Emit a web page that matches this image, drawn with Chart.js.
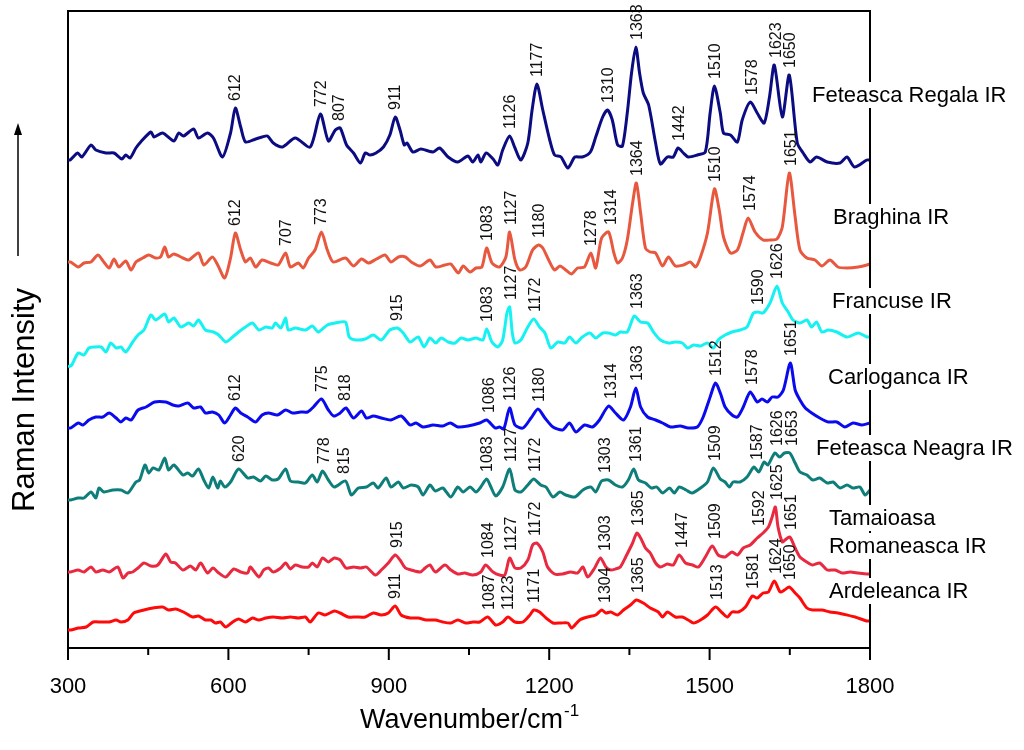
<!DOCTYPE html>
<html>
<head>
<meta charset="utf-8">
<title>Raman spectra</title>
<script src="https://cdn.jsdelivr.net/npm/chart.js@4.4.1/dist/chart.umd.min.js"></script>
<style>
  html, body { margin: 0; padding: 0; background: #fff; }
  canvas { display: block; }
</style>
</head>
<body>
<canvas id="ramanChart" width="1024" height="750"></canvas>
<script>
// wavenumber (cm-1) / intensity (arb. units, spectra already stacked)
const regalaX = [300,304,318,326,343,352,371,386,401,408,
  416,427,436,455,461,477,498,507,516,535,
  544,561,572,589,604,613,623,632,651,663,
  673,684,701,725,753,772,787,800,809,821,
  834,847,856,865,876,890,902,912,921,929,
  934,945,960,983,995,1011,1029,1048,1057,1067,
  1072,1082,1095,1104,1113,1126,1136,1147,1160,1168,
  1177,1188,1201,1210,1222,1235,1248,1262,1277,1287,
  1300,1309,1318,1328,1337,1346,1354,1362,1369,1376,
  1386,1399,1408,1421,1432,1441,1451,1460,1477,1492,
  1501,1509,1520,1526,1539,1552,1561,1576,1589,1602,
  1612,1621,1636,1649,1664,1675,1688,1700,1720,1744,
  1757,1771,1794,1800];
const regalaY = [488,488,495,491,503,498,495,495,489,493,
  490,500,506,516,511,515,507,515,512,519,
  510,515,510,491,515,540,521,506,509,511,
  512,505,501,510,501,534,507,518,520,503,
  495,485,495,493,495,501,513,531,518,503,
  505,496,499,496,500,491,486,492,486,493,
  486,495,489,483,498,512,500,488,505,538,
  564,538,508,493,491,480,491,491,496,511,
  531,538,528,503,502,535,575,601,575,555,
  543,505,484,491,491,500,495,491,493,496,
  535,562,535,515,513,506,528,546,535,525,
  551,583,531,573,505,495,486,491,486,485,
  491,481,488,488];

const braghinaX = [300,305,319,330,343,356,367,377,386,395,
  408,418,427,440,451,464,473,481,488,498,
  515,526,544,554,570,580,593,604,613,623,
  632,641,651,663,679,693,707,716,731,740,
  750,762,774,785,796,819,834,849,862,877,
  893,904,918,931,942,959,977,988,1005,1016,
  1030,1039,1052,1063,1074,1083,1093,1107,1119,1126,
  1136,1145,1156,1169,1180,1188,1199,1210,1220,1231,
  1242,1253,1266,1278,1287,1298,1311,1321,1328,1337,
  1346,1356,1363,1371,1380,1389,1399,1412,1423,1436,
  1451,1464,1474,1483,1496,1509,1518,1526,1539,1552,
  1563,1572,1585,1600,1613,1626,1636,1649,1660,1669,
  1682,1697,1710,1725,1740,1757,1778,1794,1800];
const braghinaY = [386,386,381,385,386,393,386,380,389,381,
  387,378,386,390,393,390,391,401,391,394,
  390,388,395,383,391,383,370,390,415,398,
  386,390,381,388,385,383,395,381,385,380,
  390,398,416,398,386,390,382,389,385,389,
  393,386,391,391,386,382,388,381,383,384,
  375,382,376,380,381,400,385,381,391,416,
  388,378,381,398,403,400,388,378,382,378,
  374,380,381,395,380,410,416,395,385,390,
  408,445,465,435,400,396,395,382,391,382,
  383,386,381,391,415,459,438,411,395,398,
  416,430,416,408,408,409,421,475,431,398,
  390,388,382,388,381,380,381,383,384];

const francuseX = [300,307,319,330,339,349,362,371,380,390,
  399,408,421,431,442,455,464,481,488,498,
  511,526,535,544,557,572,582,595,608,619,
  632,645,657,670,682,688,698,707,712,725,
  744,757,768,785,800,819,826,839,856,871,
  886,902,916,927,940,955,966,977,988,998,
  1011,1024,1035,1048,1063,1076,1083,1093,1104,1113,
  1121,1126,1131,1136,1147,1160,1171,1182,1192,1203,
  1216,1229,1238,1250,1262,1276,1287,1300,1311,1324,
  1333,1346,1359,1371,1384,1395,1408,1423,1436,1449,
  1459,1470,1483,1496,1507,1516,1529,1542,1557,1570,
  1582,1591,1600,1613,1626,1636,1647,1656,1669,1682,
  1691,1700,1710,1722,1738,1757,1778,1794,1800];
const francuseY = [281,283,295,293,300,301,301,296,305,300,
  301,296,306,313,318,333,328,334,326,330,
  321,325,322,328,318,316,313,306,311,316,
  321,325,318,321,320,325,320,330,318,320,
  318,322,316,323,325,326,311,308,309,313,
  308,318,320,315,306,311,301,310,305,310,
  306,305,310,308,310,308,319,306,301,308,
  335,341,315,305,308,321,329,321,315,300,
  306,305,311,305,311,315,310,315,315,313,
  316,316,332,326,325,316,308,305,306,305,
  300,303,302,305,300,308,313,316,318,321,
  335,336,335,345,362,345,336,328,325,328,
  321,326,316,318,316,311,315,311,311];

const carlogancaX = [300,305,319,328,339,352,365,377,390,399,
  408,418,431,446,462,483,496,507,524,535,
  548,557,570,582,593,604,613,623,636,651,
  663,675,692,707,720,735,748,759,774,787,
  797,809,820,834,849,858,871,886,904,923,
  940,951,964,983,1001,1015,1029,1048,1070,1083,
  1099,1107,1115,1126,1136,1151,1166,1179,1192,1207,
  1225,1238,1250,1266,1281,1294,1311,1324,1339,1352,
  1362,1371,1384,1399,1412,1427,1445,1460,1477,1488,
  1501,1511,1520,1529,1542,1552,1563,1576,1589,1598,
  1608,1617,1628,1638,1651,1660,1669,1679,1691,1706,
  1722,1738,1753,1768,1785,1800];
const carlogancaY = [220,220,225,223,228,231,231,235,230,226,
  230,228,238,241,246,246,243,242,245,240,
  241,235,236,233,225,233,240,235,231,226,
  233,235,233,238,235,236,236,241,249,238,
  232,235,240,230,237,230,232,230,228,232,
  223,225,221,223,222,225,221,222,225,228,
  220,221,219,240,223,220,230,239,230,221,
  218,225,216,223,221,228,242,235,228,241,
  260,241,231,228,225,221,222,220,221,231,
  251,265,255,241,233,231,241,256,246,249,
  246,251,251,258,285,258,248,240,235,230,
  226,226,221,225,223,225];

const neagraX = [300,305,319,330,343,352,358,367,384,399,
  412,427,434,444,451,459,470,481,488,498,
  515,524,533,544,554,563,571,580,585,593,
  604,619,636,647,660,670,682,693,707,716,
  731,744,757,766,776,787,798,819,830,843,
  858,871,880,895,904,918,927,942,955,964,
  977,987,1001,1016,1029,1039,1052,1063,1072,1083,
  1091,1100,1113,1126,1136,1147,1160,1171,1184,1194,
  1207,1220,1231,1248,1263,1278,1287,1298,1311,1324,
  1337,1348,1358,1367,1380,1391,1401,1412,1425,1434,
  1443,1456,1467,1483,1496,1507,1520,1529,1537,1544,
  1557,1570,1583,1592,1602,1609,1622,1631,1640,1650,
  1660,1669,1682,1693,1706,1720,1731,1744,1757,1768,
  1781,1791,1800];
const neagraY = [148,148,150,150,156,150,160,156,158,158,
  155,166,168,183,175,180,178,190,178,183,
  173,175,172,179,168,160,171,160,167,161,
  166,179,170,171,167,172,168,169,179,167,
  166,165,173,166,177,168,161,167,153,160,
  161,165,160,170,161,166,160,163,161,153,
  163,157,160,151,161,156,161,156,161,169,
  161,152,161,179,158,156,163,169,163,161,
  151,156,153,151,158,161,156,167,168,163,
  161,168,179,168,165,160,161,155,160,155,
  161,158,155,160,166,180,169,166,161,166,
  166,171,181,176,186,183,195,191,195,195,
  185,176,173,168,170,165,166,160,163,160,
  161,153,158];

const tamaioasaX = [300,305,319,330,343,352,365,377,393,403,
  412,421,431,442,455,468,483,492,501,515,
  529,539,548,561,571,582,595,610,623,636,
  641,657,666,675,684,698,707,716,725,738,
  750,757,766,776,787,798,809,820,834,847,
  858,875,886,899,912,921,931,942,959,968,
  977,987,1005,1016,1029,1042,1057,1072,1081,1095,
  1107,1117,1126,1136,1147,1160,1169,1177,1188,1197,
  1210,1225,1240,1253,1263,1272,1285,1296,1306,1315,
  1324,1333,1343,1356,1364,1371,1380,1389,1399,1408,
  1421,1432,1443,1455,1468,1479,1492,1505,1516,1529,
  1542,1552,1563,1576,1589,1600,1610,1617,1623,1628,
  1636,1641,1650,1660,1669,1682,1693,1706,1720,1735,
  1748,1763,1778,1794,1800];
const tamaioasaY = [76,76,78,76,81,76,78,76,81,70,
  75,76,80,85,82,83,94,86,85,78,
  82,78,85,75,80,75,71,79,76,75,
  81,71,78,80,76,80,85,79,83,81,
  81,85,81,90,86,90,88,80,81,80,
  81,73,78,85,93,88,80,78,76,80,
  83,76,83,78,74,75,73,76,83,76,
  73,73,90,80,80,88,103,105,96,81,
  74,74,76,75,81,71,80,90,81,78,
  79,81,91,105,115,110,100,95,85,81,
  84,83,93,85,83,81,91,102,93,91,
  96,93,100,103,110,115,121,131,141,121,
  106,108,111,100,91,86,83,85,78,78,
  75,76,75,74,74];

const ardeleancaX = [300,305,320,334,347,362,377,390,399,412,
  423,442,459,477,488,501,516,533,544,557,
  567,576,585,595,608,619,632,645,657,670,
  684,701,716,731,744,753,768,781,798,809,
  824,839,856,871,886,899,912,923,940,955,
  970,987,1001,1016,1029,1044,1057,1070,1085,1100,
  1113,1123,1136,1151,1164,1171,1182,1194,1207,1222,
  1235,1242,1257,1272,1287,1298,1306,1315,1328,1339,
  1352,1363,1376,1389,1404,1412,1421,1436,1449,1460,
  1470,1483,1496,1511,1524,1533,1542,1554,1567,1580,
  1589,1600,1610,1621,1632,1640,1649,1660,1669,1682,
  1693,1710,1725,1740,1757,1772,1794,1800];
const ardeleancaY = [18,18,20,21,26,26,26,28,26,28,
  35,38,40,41,38,39,36,31,32,28,
  28,25,26,21,26,29,26,30,28,30,
  31,30,31,30,31,26,35,33,37,35,
  31,31,31,35,33,35,42,33,30,30,
  28,28,26,25,28,25,26,26,31,23,
  26,31,26,26,33,38,36,30,25,25,
  25,20,28,31,33,38,35,36,33,38,
  43,48,45,40,36,31,36,31,31,28,
  25,28,33,41,35,31,36,36,41,52,
  50,55,56,67,56,58,61,55,50,40,
  38,38,36,35,33,31,27,27];

// band positions written above each spectrum
const regalaPeaks = [612, 772, 807, 911, 1126, 1177, 1310, 1363, 1442, 1510, 1578, 1623, 1650];
const braghinaPeaks = [612, 707, 773, 1083, 1127, 1180, 1278, 1314, 1364, 1510, 1574, 1651];
const francusePeaks = [915, 1083, 1127, 1172, 1363, 1590, 1626];
const carlogancaPeaks = [612, 775, 818, 1086, 1126, 1180, 1314, 1363, 1512, 1578, 1651];
const neagraPeaks = [620, 778, 815, 1083, 1127, 1172, 1303, 1361, 1509, 1587, 1626, 1653];
const tamaioasaPeaks = [915, 1084, 1127, 1172, 1303, 1365, 1447, 1509, 1592, 1625, 1651];
const ardeleancaPeaks = [911, 1087, 1123, 1171, 1304, 1365, 1513, 1581, 1624, 1650];

const xTicks = [300, 600, 900, 1200, 1500, 1800];

const FONT = '"Liberation Sans", Arial, Helvetica, sans-serif';

// name lines, colour, and where the name sits (value units / px from right edge)
const series = [
  { name: ['Feteasca Regala IR'], x: regalaX, y: regalaY, peaks: regalaPeaks, color: '#0b0b82', nameAt: [553], nameDx: -58 },
  { name: ['Braghina IR'], x: braghinaX, y: braghinaY, peaks: braghinaPeaks, color: '#e8583f', nameAt: [431], nameDx: -37 },
  { name: ['Francuse IR'], x: francuseX, y: francuseY, peaks: francusePeaks, color: '#16f2f2', nameAt: [347], nameDx: -38 },
  { name: ['Carloganca IR'], x: carlogancaX, y: carlogancaY, peaks: carlogancaPeaks, color: '#0a0aee', nameAt: [271], nameDx: -42 },
  { name: ['Feteasca Neagra IR'], x: neagraX, y: neagraY, peaks: neagraPeaks, color: '#0e7e7a', nameAt: [200], nameDx: -54 },
  { name: ['Tamaioasa', 'Romaneasca IR'], x: tamaioasaX, y: tamaioasaY, peaks: tamaioasaPeaks, color: '#e8293f', nameAt: [130, 102], nameDx: -41 },
  { name: ['Ardeleanca IR'], x: ardeleancaX, y: ardeleancaY, peaks: ardeleancaPeaks, color: '#ff0a0a', nameAt: [57], nameDx: -41 }
];

const decorations = {
  id: 'decorations',
  afterDatasetsDraw(chart) {
    const { ctx, scales: { x, y } } = chart;
    ctx.save();
    ctx.fillStyle = '#111';
    ctx.font = '16px ' + FONT;
    ctx.textAlign = 'left';
    ctx.textBaseline = 'middle';
    chart.data.datasets.forEach(ds => {
      ds.peaks.forEach(wn => {
        // sit the number just above the highest point near the band
        let top = null;
        ds.data.forEach(p => {
          if (Math.abs(p.x - wn) <= 10) {
            const py = y.getPixelForValue(p.y);
            if (top === null || py < top) top = py;
          }
        });
        if (top === null) {
          let best = ds.data[0];
          ds.data.forEach(p => { if (Math.abs(p.x - wn) < Math.abs(best.x - wn)) best = p; });
          top = y.getPixelForValue(best.y);
        }
        ctx.save();
        ctx.translate(x.getPixelForValue(wn) + 1, top - 7);
        ctx.rotate(-Math.PI / 2);
        ctx.fillText(String(wn), 0, 0);
        ctx.restore();
      });
    });
    ctx.restore();
  },
  afterDraw(chart) {
    const { ctx, chartArea: a, scales: { x, y } } = chart;
    ctx.save();
    ctx.strokeStyle = '#000';
    ctx.lineWidth = 2;

    // top + right frame
    ctx.beginPath();
    ctx.moveTo(a.left - 1, a.top);
    ctx.lineTo(a.right, a.top);
    ctx.lineTo(a.right, a.bottom);
    ctx.stroke();

    // tick marks, long on labelled values
    x.ticks.forEach(t => {
      const px = x.getPixelForValue(t.value);
      const len = xTicks.includes(t.value) ? 12 : 7;
      ctx.beginPath();
      ctx.moveTo(px, a.bottom);
      ctx.lineTo(px, a.bottom + len);
      ctx.stroke();
    });

    // spectrum names on the right, white boxes break the frame line
    ctx.font = '22px ' + FONT;
    ctx.textAlign = 'left';
    ctx.textBaseline = 'middle';
    chart.data.datasets.forEach(ds => {
      ds.name.forEach((line, i) => {
        const py = y.getPixelForValue(ds.nameAt[i]);
        const px = a.right + ds.nameDx;
        const w = ctx.measureText(line).width;
        ctx.fillStyle = '#fff';
        ctx.fillRect(px - 2, py - 13, w + 4, 26);
        ctx.fillStyle = '#000';
        ctx.fillText(line, px, py + 1);
      });
    });

    // x title with superscript
    const main = 'Wavenumber/cm';
    const sup = '-1';
    ctx.font = '27px ' + FONT;
    const wMain = ctx.measureText(main).width;
    ctx.font = '17px ' + FONT;
    const wSup = ctx.measureText(sup).width;
    const cx = (a.left + a.right) / 2;
    const startX = cx - (wMain + wSup) / 2;
    ctx.textAlign = 'left';
    ctx.textBaseline = 'alphabetic';
    ctx.fillStyle = '#000';
    ctx.font = '27px ' + FONT;
    ctx.fillText(main, startX, 728);
    ctx.font = '17px ' + FONT;
    ctx.fillText(sup, startX + wMain + 1, 716);

    // y title + arrow
    ctx.save();
    ctx.translate(34, 400);
    ctx.rotate(-Math.PI / 2);
    ctx.font = '31px ' + FONT;
    ctx.textAlign = 'center';
    ctx.textBaseline = 'alphabetic';
    ctx.fillText('Raman Intensity', 0, 0);
    ctx.restore();

    ctx.lineWidth = 1.5;
    ctx.beginPath();
    ctx.moveTo(18, 256);
    ctx.lineTo(18, 132);
    ctx.stroke();
    ctx.beginPath();
    ctx.moveTo(18, 123);
    ctx.lineTo(14, 135);
    ctx.lineTo(22, 135);
    ctx.closePath();
    ctx.fill();

    ctx.restore();
  }
};

new Chart(document.getElementById('ramanChart'), {
  type: 'line',
  data: {
    datasets: series.map(s => ({
      label: s.name.join(' '),
      data: s.x.map((v, i) => ({ x: v, y: s.y[i] })),
      borderColor: s.color,
      borderWidth: 3,
      pointRadius: 0,
      tension: 0.25,
      fill: false,
      peaks: s.peaks,
      name: s.name,
      nameAt: s.nameAt,
      nameDx: s.nameDx
    }))
  },
  options: {
    responsive: false,
    animation: false,
    devicePixelRatio: 1,
    layout: { padding: { left: 68, right: 154, top: 11, bottom: 0 } },
    plugins: {
      legend: { display: false },
      tooltip: { enabled: false }
    },
    scales: {
      x: {
        type: 'linear',
        min: 300,
        max: 1800,
        afterFit: s => { s.height = 102; },
        grid: { display: false, drawTicks: false },
        border: { display: true, color: '#000', width: 2 },
        ticks: {
          stepSize: 150,
          autoSkip: false,
          maxRotation: 0,
          padding: 26,
          color: '#000',
          font: { family: FONT, size: 22 },
          callback: v => (xTicks.includes(v) ? String(v) : '')
        }
      },
      y: {
        min: 0,
        max: 637,
        afterFit: s => { s.width = 0; },
        grid: { display: false, drawTicks: false },
        border: { display: true, color: '#000', width: 2 },
        ticks: { display: false }
      }
    }
  },
  plugins: [decorations]
});
</script>
</body>
</html>
